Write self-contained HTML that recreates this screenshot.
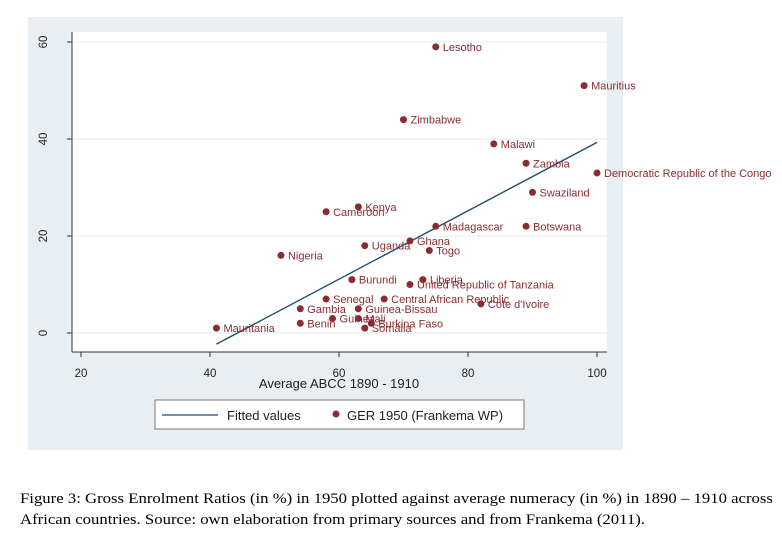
<!DOCTYPE html>
<html><head><meta charset="utf-8"><style>
body{margin:0;background:#fff;width:782px;height:541px;overflow:hidden;position:relative}
svg{position:absolute;left:0;top:0}
.cap{position:absolute;left:20px;top:489px;font-family:"Liberation Serif",serif;font-size:15px;line-height:21px;color:#000;white-space:nowrap;transform:scaleX(1.115);transform-origin:0 0}
</style></head><body>
<svg width="782" height="541" font-family="Liberation Sans, sans-serif">
<rect x="28" y="17" width="595" height="433" fill="#e8eef1"/>
<rect x="72" y="32" width="535" height="320" fill="#fff"/>
<g id="grid"></g>
<line x1="72" y1="32" x2="72" y2="352" stroke="#333"/>
<line x1="72" y1="352" x2="607" y2="352" stroke="#333"/>
<g id="ticks"></g>
<g id="fit"></g>
<g id="pts"></g>
<text x="339" y="388" font-size="13" text-anchor="middle" fill="#222">Average ABCC 1890 - 1910</text>
<g>
<rect x="155" y="400" width="369" height="29" fill="#fff" stroke="#777"/>
<line x1="162" y1="415" x2="218" y2="415" stroke="#1f4e6e" stroke-width="1.3"/>
<text x="227" y="420" font-size="13" fill="#222">Fitted values</text>
<circle cx="336" cy="414" r="3.5" fill="#8b2c30"/>
<text x="347" y="420" font-size="13" fill="#222">GER 1950 (Frankema WP)</text>
</g>
</svg>
<div class="cap">Figure 3: Gross Enrolment Ratios (in %) in 1950 plotted against average numeracy (in %) in 1890 – 1910 across<br>African countries. Source: own elaboration from primary sources and from Frankema (2011).</div>
<script>
const countries=["Lesotho","Mauritius","Zimbabwe","Malawi","Zambia","Democratic Republic of the Congo","Swaziland","Kenya","Cameroon","Madagascar","Botswana","Ghana","Uganda","Togo","Nigeria","Burundi","Liberia","United Republic of Tanzania","Senegal","Central African Republic","Cote d'Ivoire","Gambia","Guinea-Bissau","Guinea","Mali","Burkina Faso","Benin","Somalia","Mauritania"];
const abcc=[75,98,70,84,89,100,90,63,58,75,89,71,64,74,51,62,73,71,58,67,82,54,63,59,63,65,54,64,41];
const ger=[59,51,44,39,35,33,29,26,25,22,22,19,18,17,16,11,11,10,7,7,6,5,5,3,3,2,2,1,1];
const fitX=[41,100];
const fitY=[-2.3,39.3];
const xTicks=[20,40,60,80,100];
const yTicks=[0,20,40,60];
const NS="http://www.w3.org/2000/svg";
const X=v=>81+(v-20)*(516/80);
const Y=v=>333-v*(291/60);
function mk(t,a,p){const e=document.createElementNS(NS,t);for(const k in a)e.setAttribute(k,a[k]);document.getElementById(p).appendChild(e);return e;}
yTicks.forEach(v=>{
  const g=mk('line',{x1:72,x2:607,y1:Y(v),y2:Y(v),stroke:'#e6eef2'},'grid');
  
  
  const t=mk('line',{x1:67,x2:72,y1:Y(v),y2:Y(v),stroke:'#333'},'ticks');
  
  
  const l=mk('text',{x:0,y:0,'font-size':11.5,'text-anchor':'middle',fill:'#222',transform:`translate(47,${Y(v)}) rotate(-90)`},'ticks');
  l.textContent=v;
  
  
});
xTicks.forEach(v=>{
  const t=mk('line',{x1:X(v),x2:X(v),y1:352,y2:357,stroke:'#333'},'ticks');
  
  
  const l=mk('text',{x:X(v),y:377,'font-size':11.5,'text-anchor':'middle',fill:'#222'},'ticks');
  l.textContent=v;
  
  
});
const fl=mk('line',{x1:X(fitX[0]),y1:Y(fitY[0]),x2:X(fitX[1]),y2:Y(fitY[1]),stroke:'#1f4e6e','stroke-width':1.4},'fit');


countries.forEach((c,i)=>{
  const p=mk('circle',{cx:X(abcc[i]),cy:Y(ger[i]),r:3.5,fill:'#8b2c30'},'pts');
  
  
  const l=mk('text',{x:X(abcc[i])+7,y:Y(ger[i])+4,'font-size':11,fill:'#8b2c30'},'pts');
  l.textContent=c;
  
  
});
</script>
</body></html>
